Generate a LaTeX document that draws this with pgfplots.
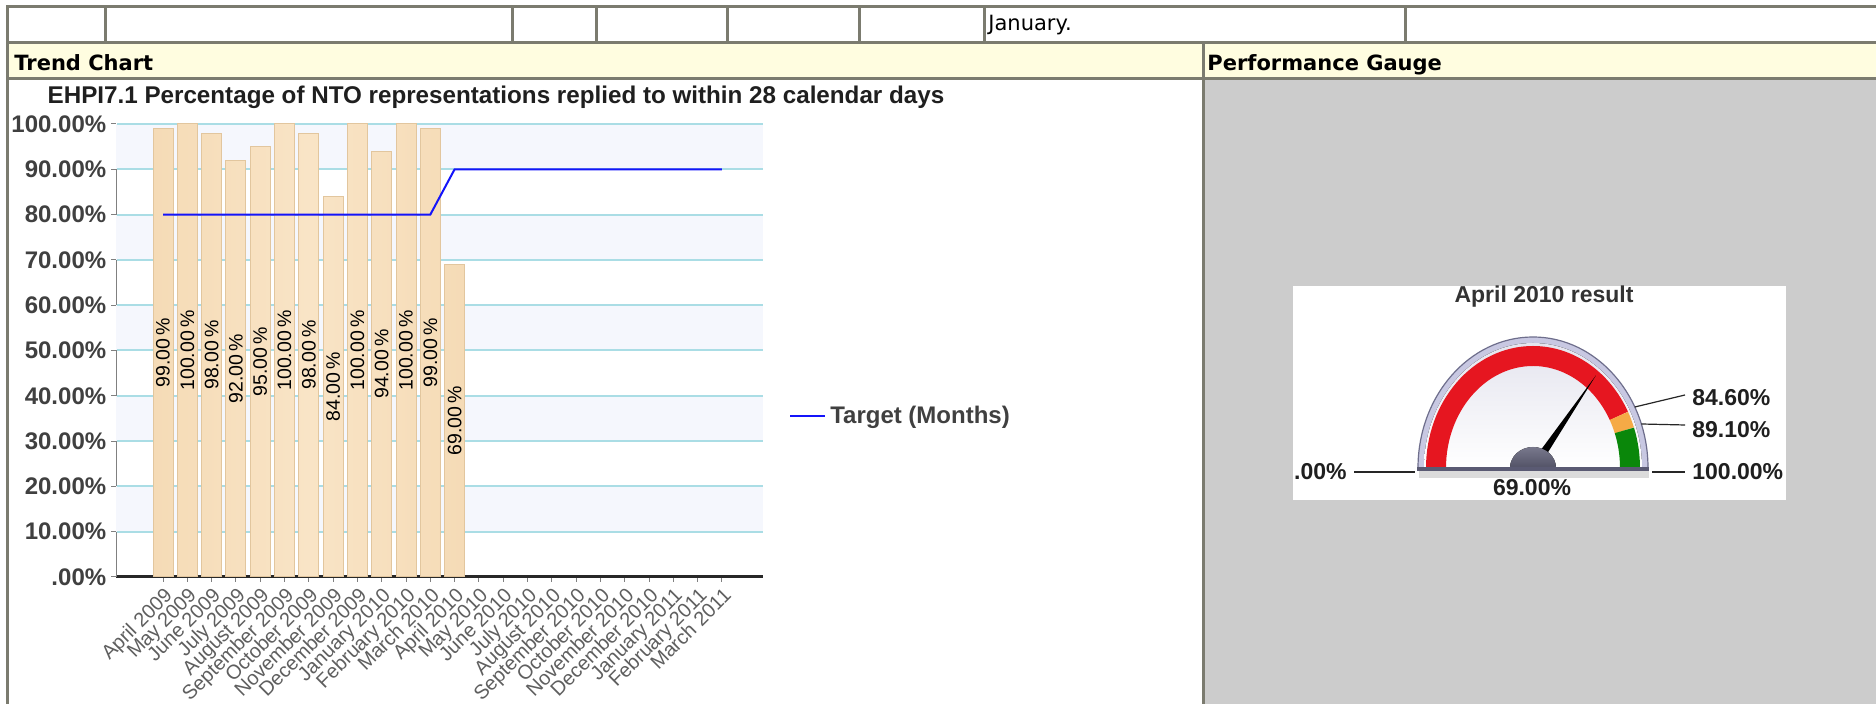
\documentclass[border=0pt]{standalone}
\usepackage{fontspec}
\setmainfont{Liberation Sans}
\newfontfamily\dejavu{DejaVu Sans}
\usepackage{pgfplots}
\usepackage{pgfplotstable}
\pgfplotsset{compat=1.18}
\pgfplotsset{/pgf/number format/assume math mode=true}

\definecolor{border}{RGB}{123,123,111}
\definecolor{headfill}{RGB}{255,253,224}
\definecolor{panel}{RGB}{204,204,204}
\definecolor{band}{RGB}{245,247,253}
\definecolor{gridc}{RGB}{170,221,229}
\definecolor{barfill}{RGB}{245,219,182}
\definecolor{barlight}{RGB}{249,228,198}
\definecolor{baredge}{RGB}{226,198,158}
\definecolor{target}{RGB}{20,20,250}
\definecolor{ylab}{RGB}{64,64,64}
\definecolor{xlab}{RGB}{95,95,95}
\definecolor{axisdark}{RGB}{40,40,40}
\definecolor{gred}{RGB}{230,22,32}
\definecolor{gorange}{RGB}{245,170,70}
\definecolor{ggreen}{RGB}{10,135,10}
\definecolor{rim}{RGB}{200,200,226}
\definecolor{rimdark}{RGB}{110,110,140}
\definecolor{hub}{RGB}{82,82,102}
\definecolor{hubtop}{RGB}{120,120,140}
\definecolor{gbase}{RGB}{90,90,115}
\definecolor{face}{RGB}{228,228,238}

\pgfplotstableread{
i v
0 99
1 100
2 98
3 92
4 95
5 100
6 98
7 84
8 100
9 94
10 100
11 99
12 69
}\results

\pgfplotstableread{
i t
0 80
1 80
2 80
3 80
4 80
5 80
6 80
7 80
8 80
9 80
10 80
11 80
12 90
13 90
14 90
15 90
16 90
17 90
18 90
19 90
20 90
21 90
22 90
23 90
}\target

\begin{document}
\begin{tikzpicture}
\begin{scope}[x=0.5pt,y=-0.5pt]
\fill[white] (0,0) rectangle (1876,704);
\fill[headfill] (7,43) rectangle (1876,79);
\fill[panel] (1203,79) rectangle (1876,704);
\fill[white] (1293,286) rectangle (1786,500);
\begin{scope}[draw=border, line width=1.5pt]
\draw (7,7) -- (1876,7);
\draw (7,43) -- (1876,43);
\draw (7,79) -- (1876,79);
\draw (7,5.5) -- (7,704);
\foreach \xx in {105,512,596,727,859,984,1405} {\draw (\xx,7) -- (\xx,43);}
\draw (1203,43) -- (1203,704);
\end{scope}
\node[anchor=base west, inner sep=0pt, font=\dejavu\fontsize{10.5}{12}\selectfont] at (988,31) {January.};
\node[anchor=base west, inner sep=0pt, font=\dejavu\bfseries\fontsize{10.5}{12}\selectfont] at (14,71) {Trend Chart};
\node[anchor=base west, inner sep=0pt, font=\dejavu\bfseries\fontsize{10.5}{12}\selectfont] at (1207,71) {Performance Gauge};
\node[anchor=base, inner sep=0pt, font=\bfseries\fontsize{12.1}{14}\selectfont, text=black!88] at (496,104) {EHPI7.1 Percentage of NTO representations replied to within 28 calendar days};
\coordinate (TA) at (116,577);
\coordinate (GA) at (1293,500);
\end{scope}

\begin{axis}[
  at={(TA)}, anchor=south west,
  scale only axis, width=323.5pt, height=226.5pt,
  xmin=-1.934, xmax=24.69, ymin=0, ymax=100,
  axis x line*=bottom, axis y line*=left,
  x axis line style={axisdark, line width=1.5pt, -},
  y axis line style={gray, line width=0.5pt, -},
  xtick={0,...,23},
  xticklabels={April 2009, May 2009, June 2009, July 2009, August 2009, September 2009, October 2009, November 2009, December 2009, January 2010, February 2010, March 2010, April 2010, May 2010, June 2010, July 2010, August 2010, September 2010, October 2010, November 2010, December 2010, January 2011, February 2011, March 2011},
  ytick={0,10,...,100},
  yticklabels={.00\%,10.00\%,20.00\%,30.00\%,40.00\%,50.00\%,60.00\%,70.00\%,80.00\%,90.00\%,100.00\%},
  tick align=outside,
  major tick length=2.5pt,
  tick style={gray, line width=0.5pt},
  xticklabel style={rotate=45, anchor=north east, font=\fontsize{10}{12}\selectfont, text=xlab, inner sep=1.5pt},
  yticklabel style={font=\bfseries\fontsize{12}{14}\selectfont, text=ylab, inner sep=2.2pt},
  legend style={at={(1.040,0.3554)}, anchor=west, draw=none, fill=none, font=\bfseries\fontsize{12}{14}\selectfont, text=ylab, inner sep=0pt},
  legend cell align=left,
  legend image code/.code={\draw[#1] (0pt,0pt) -- (17.5pt,0pt);},
]
\fill[band] (rel axis cs:0,0.9) rectangle (rel axis cs:1,1);
\fill[band] (rel axis cs:0,0.7) rectangle (rel axis cs:1,0.8);
\fill[band] (rel axis cs:0,0.5) rectangle (rel axis cs:1,0.6);
\fill[band] (rel axis cs:0,0.3) rectangle (rel axis cs:1,0.4);
\fill[band] (rel axis cs:0,0.1) rectangle (rel axis cs:1,0.2);
\foreach \g in {0.1,0.2,0.3,0.4,0.5,0.6,0.7,0.8,0.9,1.0} {
  \edef\temp{\noexpand\draw[gridc, line width=1pt] (rel axis cs:0.002,\g) -- (rel axis cs:1,\g);}\temp
}
\addplot[ybar, bar width=10pt, left color=barfill, right color=barfill, middle color=barlight, draw=baredge, line width=0.5pt, forget plot] table[x=i, y=v] {\results};
\addplot[draw=none, mark=none, forget plot, point meta=explicit,
  nodes near coords={\pgfmathprintnumber[fixed, fixed zerofill, precision=2]{\pgfplotspointmeta}\,\%},
  every node near coord/.append style={rotate=90, anchor=center, font=\fontsize{9.75}{11}\selectfont, text=black, inner sep=0pt}]
  table[x=i, y expr=\thisrow{v}/2, meta=v] {\results};
\addplot[target, line width=1pt, mark=none] table[x=i, y=t] {\target};
\addlegendentry{Target (Months)}
\end{axis}

\begin{axis}[at={(GA)}, anchor=south west, x=0.5pt, y=0.5pt,
  xmin=-240, xmax=253, ymin=-32, ymax=182, hide axis, clip=false]
\addplot[draw=none, mark=none, forget plot] coordinates {(0,0)};
\begin{scope}[shift={(axis cs:0,0)}]
 \fill[black!14] (-57pt,-1pt) rectangle (58pt,-5pt);
 \fill[rim, draw=rimdark, line width=0.6pt] (-57.5pt,0pt) arc[start angle=180,end angle=0,x radius=57.5pt,y radius=65.5pt] -- cycle;
 \fill[top color=face, bottom color=white] (-54.5pt,0pt) arc[start angle=180,end angle=0,x radius=54.5pt,y radius=62.5pt] -- cycle;
 \draw[gred, line width=10pt] (-48.5pt,0pt) arc[start angle=180, end angle={180-1.8*84.6}, x radius=48.5pt, y radius=56pt] coordinate (b1);
 \draw[gorange, line width=10pt] (b1) arc[start angle={180-1.8*84.6}, end angle={180-1.8*89.1}, x radius=48.5pt, y radius=56pt] coordinate (b2);
 \draw[ggreen, line width=10pt] (b2) arc[start angle={180-1.8*89.1}, end angle=0, x radius=48.5pt, y radius=56pt];
 \fill[black, rotate={180-1.8*69}] (0pt,-2.2pt) -- (56pt,0pt) -- (0pt,2.2pt) -- cycle;
 \fill[top color=hubtop, bottom color=hub] (-11.5pt,0pt) arc[start angle=180,end angle=0,x radius=11.5pt,y radius=10.5pt] -- cycle;
 \draw[gbase, line width=2pt] (-58pt,-0.75pt) -- (58pt,-0.75pt);
 \begin{scope}[black!85, line width=0.6pt]
 \draw (-89.5pt,-2pt) -- (-59pt,-2pt);
 \draw (59.5pt,-2pt) -- (76pt,-2pt);
 \draw (50.9pt,30.5pt) -- (76pt,36.5pt);
 \draw (54.2pt,22pt) -- (76pt,21.5pt);
 \end{scope}
 \begin{scope}[every node/.style={inner sep=0pt, font=\bfseries\fontsize{11.5}{13}\selectfont, text=black!88}]
 \node[anchor=east] at (-93pt,-2pt) {.00\%};
 \node[anchor=west] at (79.5pt,-2pt) {100.00\%};
 \node[anchor=west] at (79.5pt,35pt) {84.60\%};
 \node[anchor=west] at (79.5pt,19pt) {89.10\%};
 \node at (-0.5pt,-10pt) {69.00\%};
 \node[text=black!80] at (5.5pt,85.5pt) {April 2010 result};
 \end{scope}
\end{scope}
\end{axis}
\pgfresetboundingbox
\path[use as bounding box] (0pt,0pt) rectangle (938pt,-352pt);
\end{tikzpicture}
\end{document}
